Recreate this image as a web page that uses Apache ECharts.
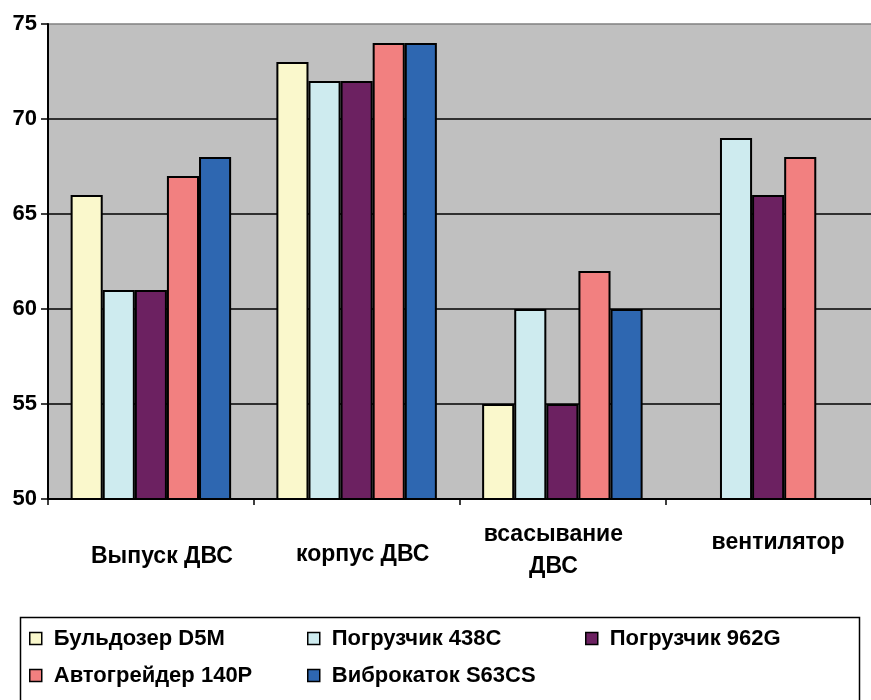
<!DOCTYPE html>
<html>
<head>
<meta charset="utf-8">
<script src="https://cdn.jsdelivr.net/npm/echarts@6/dist/echarts.min.js"></script>
<style>
  html, body { margin: 0; padding: 0; background: #ffffff; }
  #chart { width: 871px; height: 700px; }
</style>
</head>
<body>
<div id="chart"></div>
<script>
// Noise sources (categories) and measured levels per machine
const categories = ['Выпуск ДВС', 'корпус ДВС', 'всасывание\nДВС', 'вентилятор'];

const seriesNames = [
  'Бульдозер D5M',
  'Погрузчик 438C',
  'Погрузчик 962G',
  'Автогрейдер 140P',
  'Виброкаток S63CS'
];

const buldozerD5M   = [66, 73, 55, null];
const pogruzchik438 = [61, 72, 60, 69];
const pogruzchik962 = [61, 72, 55, 66];
const avtogreider   = [67, 74, 62, 68];
const vibrokatok    = [68, 74, 60, null];

const yTicks = { min: 50, max: 75, step: 5 };

const seriesValues = [buldozerD5M, pogruzchik438, pogruzchik962, avtogreider, vibrokatok];
const colors = ['#FAF8CC', '#CEEBEF', '#6C2161', '#F28080', '#2E67B1'];

const FONT = '"Liberation Sans", Arial, Helvetica, sans-serif';

// per-caption nudges [dx, dy] (labels are top-aligned, so dy is a top padding)
const labelNudge = [[11, 22], [6, 20], [-9, 0], [10, 8]];

function nudgePadding(dx, dy) {
  return [dy, dx < 0 ? -2 * dx : 0, 0, dx > 0 ? 2 * dx : 0];
}

const xData = categories.map((c, i) => ({
  value: c,
  textStyle: { padding: nudgePadding(labelNudge[i][0], labelNudge[i][1]) }
}));

const chart = echarts.init(document.getElementById('chart'), null, { renderer: 'canvas' });

const legendBase = {
  orient: 'vertical',
  top: 627,
  padding: 0,
  itemWidth: 12,
  itemHeight: 12,
  itemGap: 14,
  selectedMode: false,
  icon: 'rect',
  itemStyle: { borderColor: '#000', borderWidth: 1.5 },
  textStyle: {
    fontFamily: FONT,
    fontWeight: 'bold',
    fontSize: 22,
    lineHeight: 23,
    color: '#000',
    padding: [0, 0, 0, 7]
  }
};

const option = {
  animation: false,
  backgroundColor: '#ffffff',
  grid: {
    left: 48,
    right: 0,
    top: 24,
    bottom: 201,
    show: true,
    backgroundColor: '#C0C0C0',
    borderWidth: 0
  },
  legend: [
    Object.assign({}, legendBase, { left: 29, data: [seriesNames[0], seriesNames[3]] }),
    Object.assign({}, legendBase, { left: 307, data: [seriesNames[1], seriesNames[4]] }),
    Object.assign({}, legendBase, { left: 585, data: [seriesNames[2]] })
  ],
  xAxis: {
    type: 'category',
    data: xData,
    boundaryGap: true,
    axisLine: { show: true, lineStyle: { color: '#000', width: 2 } },
    axisTick: { show: true, length: 6, lineStyle: { color: '#000', width: 1.5 } },
    axisLabel: {
      interval: 0,
      margin: 20,
      color: '#000',
      fontFamily: FONT,
      fontWeight: 'bold',
      fontSize: 23,
      lineHeight: 32
    },
    splitLine: { show: false }
  },
  yAxis: {
    type: 'value',
    min: yTicks.min,
    max: yTicks.max,
    interval: yTicks.step,
    axisLine: { show: true, lineStyle: { color: '#000', width: 2 } },
    axisTick: { show: true, length: 7, lineStyle: { color: '#000', width: 1.5 } },
    axisLabel: {
      margin: 11,
      color: '#000',
      fontFamily: FONT,
      fontWeight: 'bold',
      fontSize: 22
    },
    splitLine: {
      show: true,
      lineStyle: {
        color: ['#000', '#000', '#000', '#000', '#000', '#808080'],
        width: 1.5
      }
    }
  },
  series: seriesNames.map((name, i) => ({
    name: name,
    type: 'bar',
    data: seriesValues[i],
    barGap: '0%',
    barCategoryGap: '22%',
    itemStyle: {
      color: colors[i],
      borderColor: '#000',
      borderWidth: 2
    },
    emphasis: { disabled: true }
  })),
  graphic: [
    {
      type: 'rect',
      left: 18,
      top: 615,
      shape: { width: 839, height: 100 },
      style: { fill: 'none', stroke: '#000', lineWidth: 1.5 },
      z: -1
    }
  ]
};

chart.setOption(option);
</script>
</body>
</html>
